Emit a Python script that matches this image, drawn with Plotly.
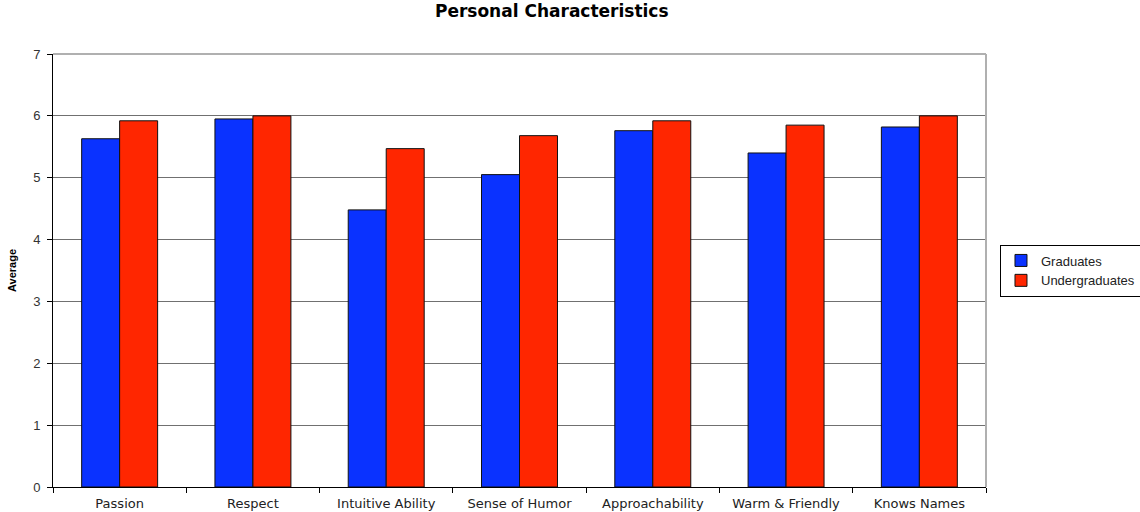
import plotly.graph_objects as go

categories = ["Passion", "Respect", "Intuitive Ability", "Sense of Humor",
              "Approachability", "Warm & Friendly", "Knows Names"]
graduates = [5.63, 5.95, 4.48, 5.05, 5.76, 5.40, 5.82]
undergraduates = [5.92, 6.00, 5.47, 5.68, 5.92, 5.85, 6.00]
y_ticks = [0, 1, 2, 3, 4, 5, 6, 7]

fig = go.Figure()
fig.add_trace(go.Bar(name="Graduates", x=categories, y=graduates,
                     marker=dict(color="#0a32ff", line=dict(color="#111", width=1))))
fig.add_trace(go.Bar(name="Undergraduates", x=categories, y=undergraduates,
                     marker=dict(color="#ff2600", line=dict(color="#111", width=1))))

fig.update_layout(
    width=1140, height=512,
    margin=dict(l=53, r=154, t=54, b=25, autoexpand=False),
    paper_bgcolor="white", plot_bgcolor="white",
    barmode="group", bargap=0.43, bargroupgap=0,
    font=dict(family="DejaVu Sans, sans-serif", size=12, color="#222"),
    title=dict(text="<b>Personal Characteristics</b>", x=0.484, xanchor="center",
               y=0.978, yanchor="middle",
               font=dict(family="DejaVu Sans, sans-serif", size=17, color="black")),
    legend=dict(x=1.015, y=0.5, xanchor="left", yanchor="middle",
                bordercolor="black", borderwidth=1, bgcolor="white",
                font=dict(family="Liberation Sans, Arial, sans-serif", size=13, color="#222"),
                tracegroupgap=0, itemwidth=30),
    showlegend=True,
)
fig.update_xaxes(type="category", showline=True, linecolor="black", linewidth=1,
                 ticks="outside", tickson="boundaries", ticklen=5, tickcolor="black",
                 showgrid=False, automargin=False, ticklabelstandoff=4,
                 tickfont=dict(family="DejaVu Sans, sans-serif", size=13, color="#222"))
fig.update_yaxes(range=[0, 7], tickvals=y_ticks, showline=True, linecolor="black",
                 linewidth=1, ticks="outside", ticklen=5, tickcolor="black",
                 showgrid=True, gridcolor="#707070", gridwidth=1, zeroline=False,
                 automargin=False, ticklabelstandoff=4,
                 tickfont=dict(family="Liberation Sans, Arial, sans-serif", size=13, color="#333"),
                 title=dict(text="<b>Average</b>", standoff=14,
                            font=dict(family="Liberation Sans Narrow, Arial Narrow, sans-serif",
                                      size=11, color="black")))
fig.add_shape(type="line", xref="x domain", yref="y domain", x0=1, x1=1, y0=0, y1=1,
              line=dict(color="#b0b0b0", width=2))
fig.add_shape(type="line", xref="x domain", yref="y domain", x0=0, x1=1, y0=1, y1=1,
              line=dict(color="#b0b0b0", width=2))

fig.write_html("out.html", config={"displayModeBar": False},
               post_script="document.body.style.margin='0';")
